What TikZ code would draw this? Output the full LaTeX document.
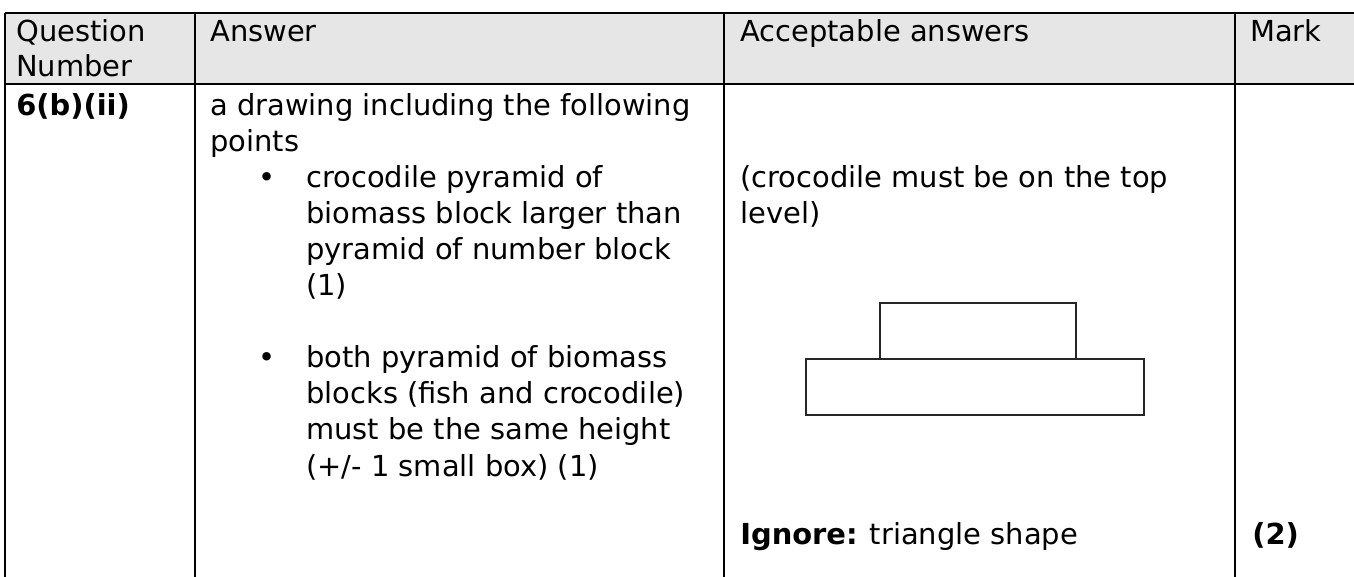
\documentclass[tikz,border=0pt]{standalone}
\usepackage{fontspec}
\setmainfont{DejaVu Sans}
\definecolor{headgray}{HTML}{E6E6E6}
\tikzset{
	txt/.style={anchor=base west, inner sep=0pt, font=\fontsize{21.7pt}{26pt}\selectfont},
	rule/.style={line width=1.5pt},
	block/.style={line width=1.1pt, draw=black!85},
}
\begin{document}
\begin{tikzpicture}[x=0.75pt, y=-0.75pt]
\useasboundingbox (0,0) rectangle (1354,577);

% header band and rules
\fill[headgray] (5,13) rectangle (1354,84);
\draw[rule] (5,13) -- (1354,13);
\draw[rule] (5,84) -- (1354,84);
\foreach \x in {5,195,724,1235} {
	\draw[rule] (\x,13) -- (\x,577);
}

% header texts
\node[txt] (qn1) at (16,42) {Question};
\node[txt] (qn2) at (16,77) {Number};
\node[txt] (ans) at (210,42) {Answer};
\node[txt] (acc) at (740,42) {Acceptable answers};
\node[txt] (mark) at (1250,42) {Mark};

% answer column
\node[txt] (qnum) at (16,116) {\textbf{6(b)(ii)}};
\node[txt] (a0) at (210,116) {a drawing including the following};
\node[txt] (a1) at (210,152) {points};

\node[txt] (b1) at (258,188) {\textbullet};
\foreach \t [count=\i from 0] in {{crocodile pyramid of},{biomass block larger than},{pyramid of number block},{(1)}} {
	\node[txt] (p\i) at (306,188+36*\i) {\t};
}

\node[txt] (b2) at (258,368) {\textbullet};
\foreach \t [count=\i from 0] in {{both pyramid of biomass},{blocks (fish and crocodile)},{must be the same height},{(+/- 1 small box) (1)}} {
	\node[txt] (q\i) at (306,368+36*\i) {\t};
}

% acceptable answers
\node[txt] (c0) at (740,188) {(crocodile must be on the top};
\node[txt] (c1) at (740,224) {level)};
\draw[block] (880,303) rectangle (1076,359);
\draw[block] (806,359) rectangle (1144,415);
\node[txt] (ign) at (740,544) {\textbf{Ignore:} triangle shape};

% mark
\node[txt] (m2) at (1252,544) {\textbf{(2)}};
\end{tikzpicture}
\end{document}
